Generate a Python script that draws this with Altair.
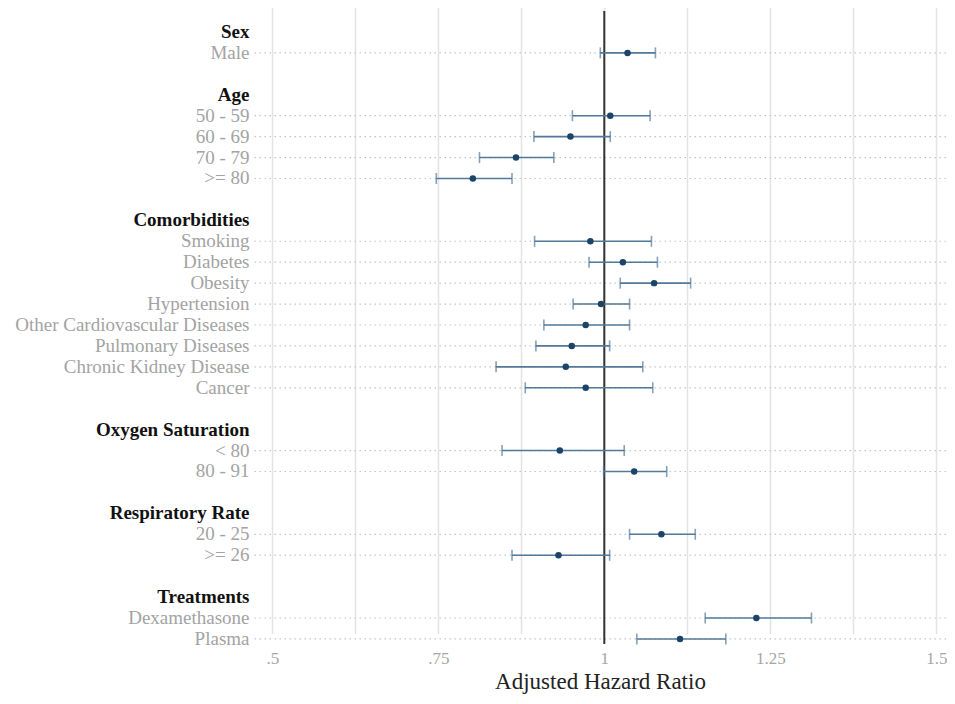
import altair as alt
import pandas as pd

# ---- data ----
headers = ["Sex", "Age", "Comorbidities", "Oxygen Saturation", "Respiratory Rate", "Treatments"]

groups = [
    ["Male"],
    ["50 - 59", "60 - 69", "70 - 79", ">= 80"],
    ["Smoking", "Diabetes", "Obesity", "Hypertension", "Other Cardiovascular Diseases",
     "Pulmonary Diseases", "Chronic Kidney Disease", "Cancer"],
    ["< 80", "80 - 91"],
    ["20 - 25", ">= 26"],
    ["Dexamethasone", "Plasma"],
]

labels = ["Male",
          "50 - 59", "60 - 69", "70 - 79", ">= 80",
          "Smoking", "Diabetes", "Obesity", "Hypertension", "Other Cardiovascular Diseases",
          "Pulmonary Diseases", "Chronic Kidney Disease", "Cancer",
          "< 80", "80 - 91",
          "20 - 25", ">= 26",
          "Dexamethasone", "Plasma"]
hr = [1.035,
      1.009, 0.949, 0.867, 0.802,
      0.979, 1.028, 1.075, 0.995, 0.972, 0.951, 0.942, 0.972,
      0.933, 1.045,
      1.086, 0.931,
      1.229, 1.114]
lo = [0.994,
      0.952, 0.894, 0.812, 0.747,
      0.895, 0.977, 1.024, 0.953, 0.909, 0.897, 0.837, 0.881,
      0.846, 0.999,
      1.038, 0.861,
      1.152, 1.049]
hi = [1.077,
      1.069, 1.009, 0.924, 0.861,
      1.071, 1.080, 1.130, 1.038, 1.038, 1.008, 1.058, 1.073,
      1.030, 1.094,
      1.137, 1.008,
      1.312, 1.183]

x_grid = [0.5, 0.625, 0.75, 0.875, 1.0, 1.125, 1.25, 1.375, 1.5]
ref_value = [1.0]

# row order: header, items, blank separator
row_order = []
for gi, (h, items) in enumerate(zip(headers, groups)):
    row_order.append(h)
    row_order.extend(items)
    if gi < len(headers) - 1:
        row_order.append(" " * (gi + 1))

df = pd.DataFrame({"label": labels, "hr": hr, "lo": lo, "hi": hi})
ref_df = pd.DataFrame({"v": ref_value})

SERIF = "Liberation Serif"
header_test = " || ".join("datum.value === '%s'" % h for h in headers)

y_enc = alt.Y(
    "label:N",
    sort=row_order,
    scale=alt.Scale(domain=row_order, range=[10.5, 638.4], paddingInner=0, paddingOuter=0),
    axis=alt.Axis(
        title=None, domain=False, ticks=False, grid=False,
        labelPadding=5, labelLimit=400, labelFont=SERIF, labelFontSize=19,
        labelColor={"condition": {"test": header_test, "value": "#111111"}, "value": "#a3a3a3"},
        labelFontWeight={"condition": {"test": header_test, "value": "bold"}, "value": "normal"},
    ),
)

x_scale = alt.Scale(domain=[0.47244, 1.51461], nice=False, zero=False)
x_axis = alt.Axis(
    values=x_grid, title="Adjusted Hazard Ratio",
    labelExpr="(datum.value * 4) % 1 != 0 ? '' : (datum.value < 1 ? slice(format(datum.value, '~g'), 1) : format(datum.value, '~g'))",
    domain=False, ticks=False, grid=True, gridColor="#e3e3e3", gridWidth=1.5,
    labelFont=SERIF, labelFontSize=17, labelColor="#a6a6a6", labelPadding=6,
    titleFont=SERIF, titleFontSize=23, titleFontWeight="normal", titleColor="#222222",
    titlePadding=4,
)

base = alt.Chart(df)

dots = base.mark_rule(color="#c4c4c4", strokeDash=[1.5, 3.5], strokeWidth=1.2).encode(y=y_enc)

ref = alt.Chart(ref_df).mark_rule(color="#333333", strokeWidth=2).encode(
    x=alt.X("v:Q", scale=x_scale, axis=x_axis)
)

bars = base.mark_rule(color="#53799a", strokeWidth=1.6).encode(
    x=alt.X("lo:Q", scale=x_scale, axis=x_axis), x2="hi:Q", y=y_enc
)
cap_lo = base.mark_tick(color="#53799a", thickness=1.6, size=11, orient="vertical").encode(
    x=alt.X("lo:Q", scale=x_scale, axis=x_axis), y=y_enc
)
cap_hi = base.mark_tick(color="#53799a", thickness=1.6, size=11, orient="vertical").encode(
    x=alt.X("hi:Q", scale=x_scale, axis=x_axis), y=y_enc
)
pts = base.mark_circle(color="#1c4468", size=42, opacity=1).encode(
    x=alt.X("hr:Q", scale=x_scale, axis=x_axis), y=y_enc
)

chart = alt.layer(dots, ref, bars, cap_lo, cap_hi, pts).properties(
    width=692, height=633,
    autosize=alt.AutoSizeParams(type="none"),
    padding={"left": 246, "top": 3, "right": 1, "bottom": 52},
).configure(background="white").configure_view(stroke=None, strokeWidth=0)

chart.save("out.html", embed_options={"renderer": "svg", "actions": False})
